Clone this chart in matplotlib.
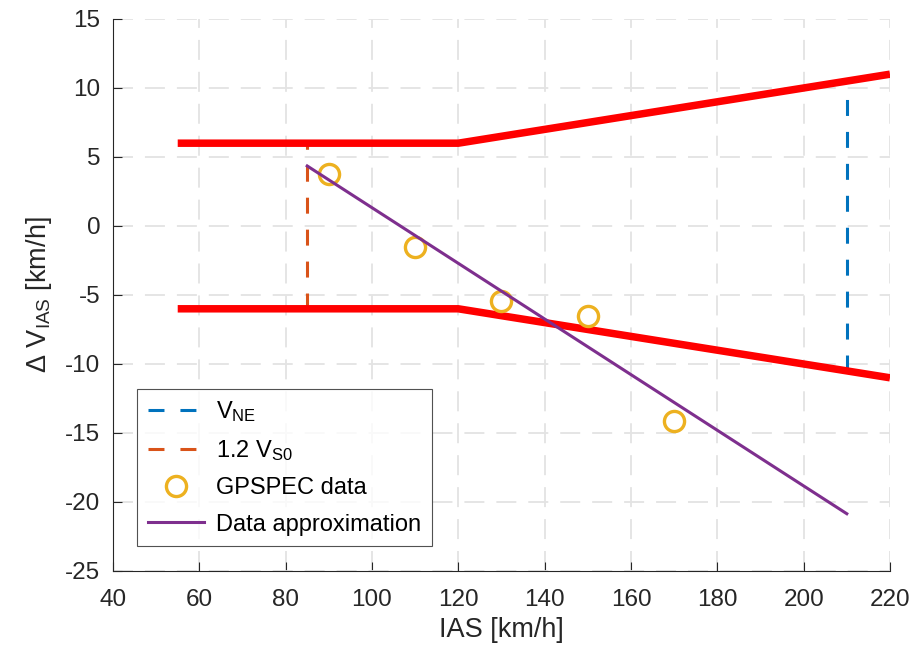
import matplotlib
matplotlib.use("Agg")
import matplotlib.pyplot as plt

plt.rcParams['font.family'] = ['Liberation Sans', 'DejaVu Sans']
plt.rcParams['mathtext.fontset'] = 'custom'
plt.rcParams['mathtext.rm'] = 'Liberation Sans'
plt.rcParams['mathtext.it'] = 'Liberation Sans:italic'
plt.rcParams['lines.scale_dashes'] = False
plt.rcParams['axes.unicode_minus'] = False

# Data
limit_x = [55, 120, 220]
upper_limit = [6, 6, 11]
lower_limit = [-6, -6, -11]
vne_x = [210, 210]
vne_y = [-10.5, 10.5]
vs0_x = [85, 85]
vs0_y = [-6, 6]
gps_x = [90, 110, 130, 150, 170]
gps_y = [3.8, -1.5, -5.4, -6.5, -14.1]
approx_x = [85, 210]
approx_y = [4.35, -20.85]

xticks = [40, 60, 80, 100, 120, 140, 160, 180, 200, 220]
yticks = [-25, -20, -15, -10, -5, 0, 5, 10, 15]

txt = '#262626'
fig = plt.figure(figsize=(9.14, 6.57), dpi=100)
ax = fig.add_axes([0.1236, 0.1309, 0.8501, 0.8402])

ax.plot(limit_x, upper_limit, color='#ff0000', lw=5.4, solid_capstyle='butt', zorder=3)
ax.plot(limit_x, lower_limit, color='#ff0000', lw=5.4, solid_capstyle='butt', zorder=3)
ax.plot(vne_x, vne_y, color='#0072BD', lw=2.2, dashes=(11.5, 11.5), label='V$_{\\mathrm{NE}}$', zorder=2)
ax.plot(vs0_x, vs0_y, color='#D95319', lw=2.2, dashes=(11.5, 11.5), label='1.2 V$_{\\mathrm{S0}}$', zorder=2)
ax.plot(gps_x, gps_y, 'o', ms=14.5, mfc='none', mec='#EDB120', mew=2.4, label='GPSPEC data', zorder=4)
ax.plot(approx_x, approx_y, color='#7E2F8E', lw=2.2, label='Data approximation', zorder=5)

ax.set_xlim(40, 220)
ax.set_ylim(-25, 15)
ax.set_xticks(xticks)
ax.set_yticks(yticks)
ax.grid(True, color='#e3e3e3', lw=1.3, dashes=(14.4, 8.6))
ax.set_axisbelow(True)
for s in ['top', 'right']:
    ax.spines[s].set_visible(False)
for s in ['left', 'bottom']:
    ax.spines[s].set_color(txt)
    ax.spines[s].set_linewidth(0.8)
ax.tick_params(direction='in', length=6.5, width=0.8, colors=txt, labelsize=17.5)
ax.tick_params(axis='x', pad=13)
ax.tick_params(axis='y', pad=9)

ax.set_xlabel('IAS [km/h]', fontsize=19.5, color=txt, labelpad=4)
ax.set_ylabel('$\\Delta$ V$_{\\mathrm{IAS}}$ [km/h]', fontsize=19.5, color=txt, labelpad=8)

leg = ax.legend(loc='lower left', bbox_to_anchor=(0.031, 0.045), borderaxespad=0,
                fontsize=17, frameon=True, fancybox=False, edgecolor='#262626',
                handlelength=2.4, handletextpad=0.5, labelspacing=0.6, borderpad=0.45)
leg.get_frame().set_linewidth(0.8)
for t in leg.get_texts():
    t.set_color('black')

fig.savefig('out.png', dpi=100)
